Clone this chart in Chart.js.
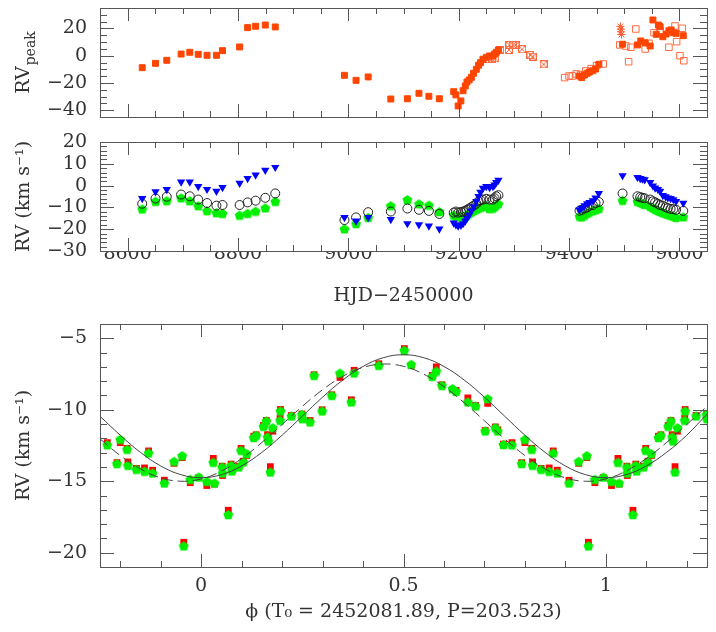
<!DOCTYPE html>
<html>
<head>
<meta charset="utf-8">
<script src="https://cdn.jsdelivr.net/npm/chart.js@4.4.1/dist/chart.umd.min.js"></script>
<style>
  body { margin: 0; background: #fff; }
  #wrap { position: relative; width: 716px; height: 632px; }
  #wrap canvas { position: absolute; left: 0; }
</style>
</head>
<body>
<div id="wrap">
  <canvas id="peakChart" width="716" height="130" style="top:0px"></canvas>
  <canvas id="rvChart" width="716" height="180" style="top:130px"></canvas>
  <canvas id="phaseChart" width="716" height="322" style="top:310px"></canvas>
</div>
<script>
// ---- top panel: RV peak vs HJD ----
var peakX = [8626.5, 8650.6, 8671, 8697, 8712.7, 8728, 8744, 8761, 8772, 8803, 8817.5, 8832, 8849.5, 8867.6,
  8993, 9014, 9036, 9077, 9107, 9128, 9146, 9165,
  9191, 9195, 9199, 9204, 9208, 9212, 9215, 9219, 9223, 9227, 9232, 9236, 9239.5, 9244, 9250, 9256, 9262, 9265, 9268, 9272,
  9419, 9423, 9428, 9433, 9437, 9443, 9448, 9454,
  9497, 9524, 9530, 9538, 9547, 9552, 9558, 9562, 9565, 9570, 9576, 9581, 9585, 9589, 9594, 9607];
var peakY = [-8.8, -5.6, -3.4, 1.2, 2.5, 1.0, 0.3, 0.3, 3.7, 6.4, 20.6, 21.6, 22.5, 21.1,
  -14.4, -18.1, -15.6, -31.8, -31.6, -27.6, -29.8, -31.6,
  -26.4, -28.8, -36.9, -33.2, -25.7, -22.2, -19.3, -17.8, -15.9, -12.9, -10.0, -7.0, -5.1, -2.6, -1.2, -0.2, -0.2, 1.2, 2.5, 4.2,
  -14.9, -16.1, -14.2, -12.9, -12.0, -11.0, -9.8, -6.3,
  8.4, 7.9, 10.8, 9.5, 7.1, 26.2, 15.7, 22.5, 21.3, 13.9, 15.9, 18.3, 18.9, 16.9, 16.4, 14.7];
var peakOpenX = [9392, 9400, 9406, 9413, 9421, 9430, 9440, 9450, 9462,
  9492, 9503, 9508, 9512, 9521, 9538, 9545, 9554, 9565, 9581, 9592, 9595, 9601, 9605, 9608];
var peakOpenY = [-16.1, -14.9, -14.9, -13.4, -13.9, -11.2, -9.5, -7.3, -6.1,
  7.9, 7.1, -4.4, 6.2, 19.6, 4.9, 9.1, 16.9, 18.4, 6.2, 21.8, 10.3, 0.0, 20.1, -3.7];
var peakCrossX = [9254, 9260, 9266, 9275, 9291, 9292, 9298, 9303, 9315, 9330, 9334, 9354];
var peakCrossY = [-2.6, -2.4, -1.9, 4.2, 4.2, 7.9, 7.9, 7.9, 4.7, 0.5, -0.7, -6.3];
var peakStarX = [9493, 9494, 9494, 9495];
var peakStarY = [21.5, 19.5, 17.5, 15.5];

// ---- middle panel: RV vs HJD ----
var hjd = [8626.5, 8650.6, 8671, 8697, 8712.7, 8728, 8744, 8761, 8772, 8803, 8817.5, 8832, 8849.5, 8867.6,
  8993, 9014, 9036, 9077, 9107, 9128, 9146, 9165,
  9191, 9195, 9199, 9204, 9208, 9212, 9215, 9219, 9223, 9227, 9232, 9236, 9239.5, 9244, 9250, 9256, 9262, 9265, 9268, 9272,
  9419, 9423, 9428, 9433, 9437, 9443, 9448, 9454,
  9497, 9524, 9529, 9533, 9537, 9547, 9552, 9556, 9561, 9565, 9570, 9575, 9579, 9584, 9589, 9594, 9607];
var rvBlue = [-5.9, -2.8, -1.8, 1.7, 1.7, -0.4, -1.7, -2.6, -0.8, 1.1, 3.3, 4.9, 7.1, 8.4,
  -14.6, -16.2, -14.6, -15.5, -17.4, -17.9, -18.5, -19.9,
  -17.1, -17.9, -18.5, -18.2, -17.4, -16.2, -15.0, -13.5, -11.6, -9.6, -7.2, -4.9, -3.0, -1.2, -0.4, -0.9, -0.4, 0.3, 1.5, 2.5,
  -11.1, -10.3, -9.2, -8.3, -7.7, -6.9, -5.6, -3.6,
  4.6, 3.8, 3.3, 3.0, 2.7, 1.5, -0.1, -1.1, -1.7, -2.6, -4.5, -5.1, -5.6, -5.9, -6.4, -7.2, -8.0];
var rvCircle = [-8.3, -5.9, -5.1, -4.1, -4.9, -6.4, -8.0, -9.2, -8.9, -8.9, -7.7, -6.9, -5.6, -3.6,
  -15.8, -14.6, -12.2, -11.9, -10.5, -11.1, -11.6, -13.0,
  -12.4, -11.9, -12.4, -12.1, -11.9, -11.6, -11.1, -10.5, -9.9, -9.2, -8.3, -7.2, -6.7, -6.4, -6.1, -6.4, -6.4, -5.8, -4.9, -4.4,
  -11.5, -11.1, -10.5, -10.0, -9.2, -8.9, -8.0, -7.5,
  -3.6, -4.9, -5.3, -5.6, -5.8, -6.4, -7.2, -7.7, -8.3, -8.9, -9.2, -9.9, -10.3, -10.7, -10.8, -11.1, -11.6];
var rvGreen = [-10.7, -7.2, -6.9, -5.6, -6.9, -9.2, -11.5, -12.4, -12.7, -13.5, -12.7, -11.7, -10.2, -7.2,
  -19.8, -17.4, -14.6, -9.2, -6.4, -8.3, -8.9, -11.9,
  -13.5, -14.0, -13.6, -14.3, -14.6, -14.0, -13.5, -12.7, -12.1, -11.5, -10.8, -10.3, -9.9, -9.6, -9.2, -10.5, -10.3, -9.6, -8.9, -8.3,
  -14.0, -14.3, -13.5, -12.7, -12.1, -11.5, -11.1, -10.5,
  -6.7, -7.2, -7.7, -8.1, -8.6, -9.5, -10.2, -10.8, -11.4, -11.9, -12.4, -12.8, -13.2, -13.6, -14.0, -14.6, -14.3];

// ---- bottom panel: phased RV (phase in [0,1), repeated each cycle) ----
var phase = [0.014, 0.030, 0.033, 0.052, 0.053, 0.067, 0.074, 0.076, 0.093, 0.0985, 0.104, 0.1125,
  0.130, 0.136, 0.154, 0.161, 0.164, 0.166, 0.171, 0.177, 0.195, 0.196, 0.223, 0.249, 0.250,
  0.269, 0.279, 0.299, 0.323, 0.343, 0.371, 0.378, 0.439, 0.502, 0.519, 0.571, 0.581, 0.595,
  0.621, 0.630, 0.659, 0.678, 0.702, 0.708, 0.727, 0.733, 0.747, 0.768, 0.792, 0.800, 0.817,
  0.819, 0.840, 0.860, 0.870, 0.880, 0.909, 0.933, 0.953, 0.957, 0.973, 0.994];
var phaseGreen = [-15.0, -13.67, -15.12, -14.0, -14.42, -17.33, -13.88, -14.28, -14.0, -12.83, -13.65, -13.06,
  -11.94, -11.78, -11.15, -10.78, -11.9, -12.18, -14.35, -11.25, -10.73, -10.08, -10.43, -10.31, -10.62,
  -10.85, -7.59, -10.08, -8.99, -7.42, -9.45, -7.42, -6.89, -5.84, -6.82, -7.66, -7.29, -8.29,
  -8.52, -8.71, -9.45, -9.73, -11.48, -9.22, -11.25, -11.48, -12.43, -12.45, -13.76, -12.06, -12.76,
  -13.88, -14.16, -14.3, -13.02, -14.42, -15.12, -13.6, -13.2, -19.52, -14.86, -14.7];
var phaseRed = [-15.3, -13.4, -15.2, -13.95, -14.6, -17.03, -13.8, -14.2, -13.95, -12.7, -13.6, -13.2,
  -11.85, -11.75, -11.1, -10.75, -11.74, -12.1, -13.98, -11.5, -10.58, -9.98, -10.4, -10.3, -10.6,
  -10.75, -7.55, -10.0, -8.95, -7.74, -9.3, -7.24, -6.78, -5.72, -6.9, -7.6, -7.0, -8.25,
  -8.6, -8.65, -9.17, -9.7, -11.45, -9.55, -11.2, -11.4, -12.4, -12.3, -13.7, -12.3, -12.7,
  -13.65, -14.1, -14.07, -12.88, -14.23, -14.93, -13.75, -13.35, -19.27, -15.1, -14.75];
var fitPhase = [-0.25, -0.2, -0.15, -0.1, -0.05, 0, 0.05, 0.1, 0.15, 0.2, 0.25, 0.3, 0.35, 0.4, 0.45, 0.5,
  0.55, 0.6, 0.65, 0.7, 0.75, 0.8, 0.85, 0.9, 0.95, 1, 1.05, 1.1, 1.15, 1.2, 1.25];
var fitSolid = [-10.45, -11.78, -12.98, -13.93, -14.54, -14.75, -14.54, -13.93, -12.98, -11.78, -10.45, -9.12,
  -7.92, -6.97, -6.36, -6.15, -6.36, -6.97, -7.92, -9.12, -10.45, -11.78, -12.98, -13.93, -14.54, -14.75,
  -14.54, -13.93, -12.98, -11.78, -10.3];
var fitDashed = [-12.04, -13.2, -14.14, -14.76, -15.0, -14.84, -14.29, -13.41, -12.29, -11.03, -9.76, -8.6,
  -7.66, -7.04, -6.8, -6.96, -7.51, -8.39, -9.51, -10.77, -12.04, -13.2, -14.14, -14.76, -15.0, -14.84,
  -14.29, -13.41, -12.29, -11.03, -9.76];

// tick labels
var hjdTicks = [8600, 8800, 9000, 9200, 9400, 9600];
var peakTicks = [-40, -20, 0, 20];
var rvTicks = [-30, -20, -10, 0, 10, 20];
var phaseTicks = [0, 0.5, 1];
var phaseRvTicks = [-20, -15, -10, -5];

Chart.defaults.font.family = "'DejaVu Serif', serif";
Chart.defaults.font.size = 19;
Chart.defaults.color = "#333";

function pts(xs, ys) {
  return xs.map(function (x, i) { return { x: x, y: ys[i] }; });
}

function minusLabel(v) {
  return String(v).replace("-", "\u2212");
}

function useTicks(values) {
  return function (scale) {
    scale.ticks = values.map(function (v) { return { value: v }; });
  };
}

// fixed axis box sizes, no automatic label padding
function fixWidth(w) {
  return function (s) {
    s.width = w;
    s.paddingTop = 0;
    s.paddingBottom = 0;
  };
}
function fixHeight(h) {
  return function (s) {
    s.height = h;
    s.paddingLeft = 0;
    s.paddingRight = 0;
  };
}

function makePentagon(size, color) {
  var c = document.createElement("canvas");
  c.width = size;
  c.height = size;
  var g = c.getContext("2d");
  var r = size / 2 - 0.3;
  g.fillStyle = color;
  g.beginPath();
  for (var i = 0; i < 5; i++) {
    var a = -Math.PI / 2 + (i * 2 * Math.PI) / 5;
    var px = size / 2 + r * Math.cos(a);
    var py = size / 2 + 0.6 + r * Math.sin(a);
    if (i === 0) g.moveTo(px, py);
    else g.lineTo(px, py);
  }
  g.closePath();
  g.fill();
  return c;
}

function makeCrossBox(size, color) {
  var c = document.createElement("canvas");
  c.width = size;
  c.height = size;
  var g = c.getContext("2d");
  g.strokeStyle = color;
  g.lineWidth = 1;
  g.strokeRect(0.5, 0.5, size - 1, size - 1);
  g.beginPath();
  g.moveTo(1, 1);
  g.lineTo(size - 1, size - 1);
  g.moveTo(size - 1, 1);
  g.lineTo(1, size - 1);
  g.stroke();
  return c;
}

var pentagon = makePentagon(11, "#00f000");
var crossBox = makeCrossBox(8, "#ff6a40");

// box with inward major/minor ticks on all four sides
function makeFrame(cfg) {
  return {
    id: "frame",
    afterDraw: function (chart) {
      var ctx = chart.ctx;
      var a = chart.chartArea;
      var xs = chart.scales.x;
      var ys = chart.scales.y;
      var v, p, len, n;
      ctx.save();
      ctx.strokeStyle = "#555";
      ctx.lineWidth = 1;
      ctx.strokeRect(Math.round(a.left) + 0.5, Math.round(a.top) + 0.5,
        Math.round(a.right - a.left), Math.round(a.bottom - a.top));
      ctx.beginPath();
      n = Math.ceil(xs.min / cfg.xMinor - 1e-6);
      for (v = n * cfg.xMinor; v <= xs.max + 1e-9; v = ++n * cfg.xMinor) {
        p = Math.round(xs.getPixelForValue(v)) + 0.5;
        len = Math.abs(v / cfg.xMajor - Math.round(v / cfg.xMajor)) < 1e-6 ? 13 : 6;
        ctx.moveTo(p, a.bottom);
        ctx.lineTo(p, a.bottom - len);
        ctx.moveTo(p, a.top);
        ctx.lineTo(p, a.top + len);
      }
      n = Math.ceil(ys.min / cfg.yMinor - 1e-6);
      for (v = n * cfg.yMinor; v <= ys.max + 1e-9; v = ++n * cfg.yMinor) {
        p = Math.round(ys.getPixelForValue(v)) + 0.5;
        len = Math.abs(v / cfg.yMajor - Math.round(v / cfg.yMajor)) < 1e-6 ? 14 : 7;
        ctx.moveTo(a.left, p);
        ctx.lineTo(a.left + len, p);
        ctx.moveTo(a.right, p);
        ctx.lineTo(a.right - len, p);
      }
      ctx.stroke();
      ctx.restore();
    },
  };
}

// RV with subscript "peak"
var peakTitlePlugin = {
  id: "peakTitle",
  afterDraw: function (chart) {
    var ctx = chart.ctx;
    ctx.save();
    ctx.translate(22, 63);
    ctx.rotate(-Math.PI / 2);
    ctx.fillStyle = "#333";
    ctx.textBaseline = "alphabetic";
    ctx.font = "19px 'DejaVu Serif'";
    var w1 = ctx.measureText("RV").width;
    ctx.font = "14px 'DejaVu Serif'";
    var w2 = ctx.measureText("peak").width;
    var start = -(w1 + w2) / 2;
    ctx.font = "19px 'DejaVu Serif'";
    ctx.fillText("RV", start, 7);
    ctx.font = "14px 'DejaVu Serif'";
    ctx.fillText("peak", start + w1 + 1, 13);
    ctx.restore();
  },
};

new Chart(document.getElementById("peakChart"), {
  type: "scatter",
  data: {
    datasets: [
      {
        data: pts(peakX, peakY),
        pointStyle: "rect",
        pointRadius: 4.2,
        backgroundColor: "#ff4500",
        borderColor: "#ff4500",
        borderWidth: 1,
      },
      {
        data: pts(peakStarX, peakStarY),
        pointStyle: "star",
        pointRadius: 4,
        backgroundColor: "#ff5a30",
        borderColor: "#ff5a30",
        borderWidth: 1,
      },
      {
        data: pts(peakCrossX, peakCrossY),
        pointStyle: crossBox,
        pointRadius: 4,
      },
      {
        data: pts(peakOpenX, peakOpenY),
        pointStyle: "rect",
        pointRadius: 4.6,
        backgroundColor: "rgba(0,0,0,0)",
        borderColor: "#ff6a40",
        borderWidth: 1,
      },
    ],
  },
  options: {
    responsive: false,
    animation: false,
    events: [],
    layout: { padding: { top: 8, right: 9, bottom: 0, left: 0 } },
    plugins: {
      legend: { display: false },
      tooltip: { enabled: false },
    },
    scales: {
      x: {
        type: "linear",
        min: 8550,
        max: 9650,
        grid: { display: false, drawTicks: false },
        border: { display: false },
        ticks: { display: false },
        afterBuildTicks: useTicks(hjdTicks),
        afterFit: fixHeight(13),
      },
      y: {
        type: "linear",
        min: -45,
        max: 35,
        grid: { display: false, drawTicks: false },
        border: { display: false },
        ticks: { padding: 13, autoSkip: false, callback: minusLabel },
        afterBuildTicks: useTicks(peakTicks),
        afterFit: fixWidth(100),
      },
    },
  },
  plugins: [makeFrame({ xMajor: 200, xMinor: 50, yMajor: 20, yMinor: 5 }), peakTitlePlugin],
});

new Chart(document.getElementById("rvChart"), {
  type: "scatter",
  data: {
    datasets: [
      {
        data: pts(hjd, rvBlue),
        pointStyle: "triangle",
        rotation: 180,
        pointRadius: 4.8,
        backgroundColor: "#0000ff",
        borderWidth: 0,
      },
      {
        data: pts(hjd, rvCircle),
        pointStyle: "circle",
        pointRadius: 4.5,
        backgroundColor: "rgba(0,0,0,0)",
        borderColor: "#222",
        borderWidth: 1,
      },
      {
        data: pts(hjd, rvGreen),
        pointStyle: pentagon,
        pointRadius: 5,
      },
    ],
  },
  options: {
    responsive: false,
    animation: false,
    events: [],
    layout: { padding: { top: 12, right: 9, bottom: 0, left: 0 } },
    plugins: {
      legend: { display: false },
      tooltip: { enabled: false },
    },
    scales: {
      x: {
        type: "linear",
        min: 8550,
        max: 9650,
        grid: { display: false, drawTicks: false },
        border: { display: false },
        ticks: { padding: -8, autoSkip: false, callback: function (v) { return String(v); } },
        title: { display: true, text: "HJD\u22122450000", padding: { top: 0, bottom: 3 } },
        afterBuildTicks: useTicks(hjdTicks),
        afterFit: fixHeight(59),
      },
      y: {
        type: "linear",
        min: -30,
        max: 20,
        grid: { display: false, drawTicks: false },
        border: { display: false },
        ticks: { padding: 13, autoSkip: false, callback: minusLabel },
        title: { display: true, text: "RV (km s\u207B\u00B9)", padding: { top: 13, bottom: 0 } },
        afterBuildTicks: useTicks(rvTicks),
        afterFit: fixWidth(100),
      },
    },
  },
  plugins: [makeFrame({ xMajor: 200, xMinor: 50, yMajor: 10, yMinor: 2 })],
});

var greenPhased = [];
var redPhased = [];
phase.forEach(function (p, i) {
  [-1, 0, 1].forEach(function (k) {
    var f = p + k;
    if (f >= -0.25 && f <= 1.25) {
      greenPhased.push({ x: f, y: phaseGreen[i] });
      redPhased.push({ x: f, y: phaseRed[i] });
    }
  });
});

new Chart(document.getElementById("phaseChart"), {
  type: "scatter",
  data: {
    datasets: [
      {
        data: pts(fitPhase, fitSolid),
        showLine: true,
        pointRadius: 0,
        borderColor: "#444",
        borderWidth: 1,
        tension: 0.4,
        fill: false,
      },
      {
        data: pts(fitPhase, fitDashed),
        showLine: true,
        pointRadius: 0,
        borderColor: "#444",
        borderWidth: 1,
        borderDash: [10, 5],
        tension: 0.4,
        fill: false,
      },
      {
        data: greenPhased,
        pointStyle: pentagon,
        pointRadius: 5,
      },
      {
        data: redPhased,
        pointStyle: "rect",
        pointRadius: 4.8,
        backgroundColor: "#ff0000",
        borderWidth: 0,
      },
    ],
  },
  options: {
    responsive: false,
    animation: false,
    events: [],
    layout: { padding: { top: 14, right: 9, bottom: 0, left: 0 } },
    plugins: {
      legend: { display: false },
      tooltip: { enabled: false },
    },
    scales: {
      x: {
        type: "linear",
        min: -0.25,
        max: 1.25,
        grid: { display: false, drawTicks: false },
        border: { display: false },
        ticks: { padding: 8, autoSkip: false, callback: minusLabel },
        title: { display: true, text: "\u03D5 (T\u2080 = 2452081.89, P=203.523)", padding: { top: 0, bottom: 9 } },
        afterBuildTicks: useTicks(phaseTicks),
        afterFit: fixHeight(65),
      },
      y: {
        type: "linear",
        min: -21,
        max: -4,
        grid: { display: false, drawTicks: false },
        border: { display: false },
        ticks: { padding: 13, autoSkip: false, callback: minusLabel },
        title: { display: true, text: "RV (km s\u207B\u00B9)", padding: { top: 13, bottom: 0 } },
        afterBuildTicks: useTicks(phaseRvTicks),
        afterFit: fixWidth(100),
      },
    },
  },
  plugins: [makeFrame({ xMajor: 0.5, xMinor: 0.1, yMajor: 5, yMinor: 1 })],
});
</script>
</body>
</html>
